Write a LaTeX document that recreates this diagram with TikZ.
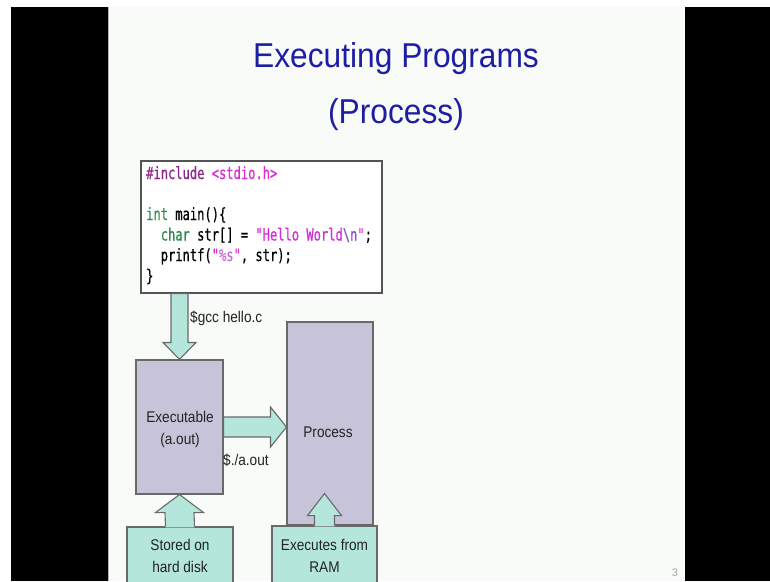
\documentclass[tikz,border=0pt]{standalone}
\usepackage{fontspec}
\setmainfont{Liberation Sans}
\newfontfamily\codefont[FakeStretch=0.72,FakeBold=0.6]{DejaVu Sans Mono}
\newfontfamily\titlefont[FakeStretch=0.92]{Liberation Sans}
\newfontfamily\lblfont[FakeStretch=0.88]{Liberation Sans}
\usetikzlibrary{calc}
\definecolor{slidebg}{RGB}{249,251,248}
\definecolor{titleblue}{RGB}{30,30,165}
\definecolor{boxfill}{RGB}{199,196,217}
\definecolor{arrowfill}{RGB}{180,230,220}
\definecolor{edgegray}{RGB}{105,105,105}
\definecolor{labelgray}{RGB}{35,35,35}
\definecolor{ppurple}{RGB}{140,40,140}
\definecolor{pmag}{RGB}{215,45,215}
\definecolor{pgreen}{RGB}{50,140,80}
\definecolor{pviolet}{RGB}{140,80,200}
\definecolor{ppink}{RGB}{200,110,210}
\tikzset{
  boxshape/.style={draw=edgegray, line width=1.1pt, fill=boxfill, inner sep=0pt},
  codebox/.style={draw=edgegray!80!black, line width=1.2pt, fill=white, inner sep=0pt},
  blockarrow/.style={draw=edgegray, line width=1.1pt, fill=arrowfill, line join=miter},
  lbl/.style={text=labelgray, font=\lblfont\fontsize{15.5}{22}\selectfont, align=center, inner sep=0pt},
  codeline/.style={anchor=base west, inner sep=0pt, font=\codefont\fontsize{16.8}{20.5}\selectfont},
  titletext/.style={anchor=base, inner sep=0pt, text=titleblue, font=\titlefont\fontsize{34.5}{40}\selectfont}
}
\begin{document}
\begin{tikzpicture}[x=1pt,y=-1pt]
\useasboundingbox (0,0) rectangle (770,581);
\clip (0,0) rectangle (770,581);
\fill[white] (0,0) rectangle (770,581);
\fill[black] (11,7) rectangle (108,581);
\fill[black] (685,7) rectangle (770,581);
\fill[slidebg] (108,7) rectangle (685,581);
\draw[gray!60, line width=0.8pt] (108,7) -- (108,581);

% title
\node[titletext] (t1) at (396,67) {Executing Programs};
\node[titletext] (t2) at (396,123) {(Process)};

% code box
\node[codebox, minimum width=241, minimum height=132] (code) at (261.5,227) {};
\node[codeline] (c1) at (146,179) {\textcolor{ppurple}{\#include} \textcolor{pmag}{<stdio.h>}};
\node[codeline] (c2) at (146,220) {\textcolor{pgreen}{int} main()\{};
\node[codeline] (c3) at (146,240.5) {\phantom{xx}\textcolor{pgreen}{char} str[] = \textcolor{pmag}{"Hello World}\textcolor{pviolet}{\textbackslash n}\textcolor{pmag}{"};};
\node[codeline] (c4) at (146,261) {\phantom{xx}printf(\textcolor{pmag}{"}\textcolor{ppink}{\%s}\textcolor{pmag}{"}, str);};
\node[codeline] (c5) at (146,281.5) {\}};

% boxes
\node[boxshape, minimum width=87, minimum height=134] (exec) at (179.5,427) {};
\node[boxshape, minimum width=86, minimum height=203] (proc) at (330,423.5) {};
\node[lbl] (exectxt) at (180,429) {Executable\\(a.out)};
\node[lbl] (proctxt) at (328,432) {Process};

% down arrow: code -> exec
\coordinate (dtop) at (exec.north |- code.south);
\draw[blockarrow] ($(dtop)+(-8.5,0)$) -- ($(exec.north)+(-8.5,-17)$) -- ($(exec.north)+(-16.5,-17)$)
  -- (exec.north) -- ($(exec.north)+(16.5,-17)$) -- ($(exec.north)+(8.5,-17)$) -- ($(dtop)+(8.5,0)$) -- cycle;
\node[lbl, anchor=west] (gcc) at (190,318) {\$gcc hello.c};

% right arrow: exec -> proc
\coordinate (rtip) at (proc.west |- exec.east);
\draw[blockarrow] ($(exec.east)+(0,-10)$) -- ($(rtip)+(-16,-10)$) -- ($(rtip)+(-16,-20)$)
  -- (rtip) -- ($(rtip)+(-16,20)$) -- ($(rtip)+(-16,10)$) -- ($(exec.east)+(0,10)$) -- cycle;
\node[lbl, anchor=west] (run) at (223,460) {\$./a.out};

% stored on hard disk callout
\node[boxshape, fill=arrowfill, minimum width=106, minimum height=80] (stored) at (180,567) {};
\fill[arrowfill] ($(stored.north)+(-14.5,1)$) -- ($(exec.south)+(-14.5,18)$) -- ($(exec.south)+(-24,18)$)
  -- (exec.south) -- ($(exec.south)+(24,18)$) -- ($(exec.south)+(14.5,18)$) -- ($(stored.north)+(14.5,1)$) -- cycle;
\draw[blockarrow, fill=none] ($(stored.north)+(-14.5,0)$) -- ($(exec.south)+(-14.5,18)$) -- ($(exec.south)+(-24,18)$)
  -- (exec.south) -- ($(exec.south)+(24,18)$) -- ($(exec.south)+(14.5,18)$) -- ($(stored.north)+(14.5,0)$);
\node[lbl] (storedtxt) at (180,556) {Stored on\\hard disk};

% executes from RAM callout
\node[boxshape, fill=arrowfill, minimum width=105, minimum height=80] (ram) at (324.5,566) {};
\coordinate (utip) at ($(ram.north |- proc.south)+(0,-32)$);
\fill[arrowfill] ($(ram.north)+(-10,1)$) -- ($(utip)+(-10,22)$) -- ($(utip)+(-17,22)$)
  -- (utip) -- ($(utip)+(17,22)$) -- ($(utip)+(10,22)$) -- ($(ram.north)+(10,1)$) -- cycle;
\draw[blockarrow, fill=none] ($(ram.north)+(-10,0)$) -- ($(utip)+(-10,22)$) -- ($(utip)+(-17,22)$)
  -- (utip) -- ($(utip)+(17,22)$) -- ($(utip)+(10,22)$) -- ($(ram.north)+(10,0)$);
\node[lbl] (ramtxt) at (324.5,556) {Executes from\\RAM};

% page number
\node[text=gray!70, font=\fontsize{11}{12}\selectfont, inner sep=0pt] (pg) at (675,573) {3};
\end{tikzpicture}
\end{document}
